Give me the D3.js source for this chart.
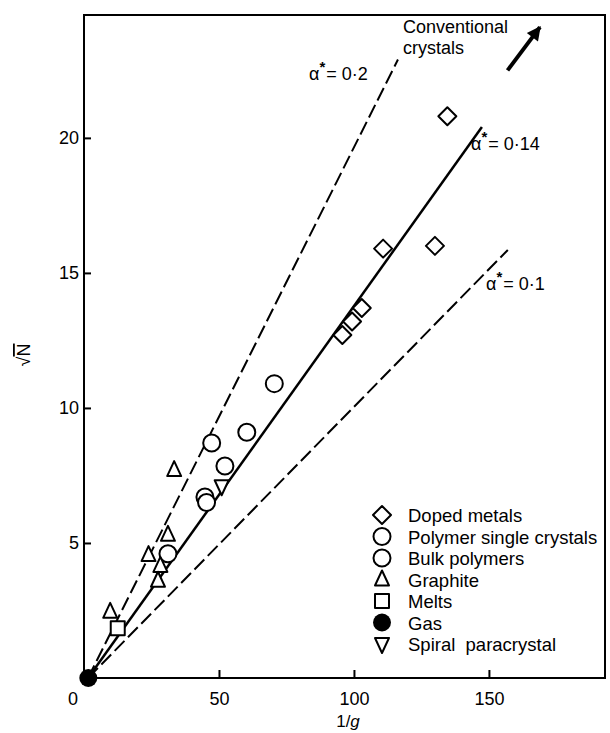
<!DOCTYPE html>
<html>
<head>
<meta charset="utf-8">
<script src="https://cdn.jsdelivr.net/npm/d3@7"></script>
<style>
  body { margin: 0; background: #fff; }
  svg text { font-family: "Liberation Sans", Arial, sans-serif; fill: #000; }
</style>
</head>
<body>
<div id="chart"></div>
<script>
// values: [1/g, sqrt(N)]
const dopedMetals = [[134.6, 20.8], [130, 16.0], [110.8, 15.9], [102.9, 13.7], [99.3, 13.2], [95.7, 12.7]];
const polymerSingleCrystals = [[70.5, 10.9], [60.3, 9.1], [47.3, 8.7], [52.2, 7.85], [44.8, 6.7]];
const bulkPolymers = [[45.4, 6.5], [31.1, 4.6]];
const graphite = [[33.4, 7.7], [31.1, 5.3], [23.9, 4.55], [28.3, 4.15], [27.4, 3.6], [9.7, 2.45]];
const melts = [[12.5, 1.84]];
const gas = [[1.6, 0]];
const spiralParacrystal = [[51.0, 7.1]];

// alpha* reference lines, start and end points
const alphaLabels = ['0·2', '0·14', '0·1'];
const alphaStarts = [[1.5, 0], [1.5, 0], [1.5, 0]];
const alphaEnds = [[116.3, 22.9], [147.4, 20.4], [157, 15.85]];

const xTicks = [50, 100, 150];
const yTicks = [5, 10, 15, 20];

const series = [
  { name: 'Doped metals', data: dopedMetals, shape: 'diamond' },
  { name: 'Polymer single crystals', data: polymerSingleCrystals, shape: 'circle' },
  { name: 'Bulk polymers', data: bulkPolymers, shape: 'circle' },
  { name: 'Graphite', data: graphite, shape: 'triangle' },
  { name: 'Melts', data: melts, shape: 'square' },
  { name: 'Gas', data: gas, shape: 'gas' },
  { name: 'Spiral  paracrystal', data: spiralParacrystal, shape: 'down' }
];

const W = 610, H = 733;
const FONT = '"Liberation Sans", Arial, sans-serif';
const svg = d3.select('#chart').append('svg').attr('width', W).attr('height', H);

const x = d3.scaleLinear().domain([0, 193]).range([84, 605]);
const y = d3.scaleLinear().domain([0, 24.55]).range([678, 15]);

const paths = {
  diamond: 'M0,-9L9,0L0,9L-9,0Z',
  triangle: 'M0,-9L7,6L-7,6Z',
  square: 'M-7,-7H7V7H-7Z',
  down: 'M0,9L7,-6L-7,-6Z'
};

function drawMarker(g, shape) {
  if (shape === 'circle') {
    g.append('circle').attr('r', 8.5).attr('fill', '#fff').attr('stroke', '#000').attr('stroke-width', 2);
  } else if (shape === 'gas') {
    g.append('circle').attr('r', 9).attr('fill', '#000');
  } else {
    g.append('path').attr('d', paths[shape]).attr('fill', '#fff')
      .attr('stroke', '#000').attr('stroke-width', 2).attr('stroke-linejoin', 'round');
  }
}

// frame
svg.append('rect')
  .attr('x', x(0)).attr('y', y(24.55))
  .attr('width', x(193) - x(0)).attr('height', y(0) - y(24.55))
  .attr('fill', 'none').attr('stroke', '#000').attr('stroke-width', 2);

// axes
const xAxis = svg.append('g')
  .attr('transform', `translate(0,${y(0)})`)
  .call(d3.axisBottom(x).tickValues(xTicks).tickSize(-8).tickPadding(14));
const yAxis = svg.append('g')
  .attr('transform', `translate(${x(0)},0)`)
  .call(d3.axisLeft(y).tickValues(yTicks).tickSize(-7).tickPadding(5));

[xAxis, yAxis].forEach(a => {
  a.select('.domain').remove();
  a.selectAll('line').attr('stroke', '#000').attr('stroke-width', 2);
  a.selectAll('text').style('font-size', '18px').style('font-family', FONT);
});

svg.append('text')
  .attr('x', x(0) - 11).attr('y', 705)
  .attr('text-anchor', 'middle').style('font-size', '18px')
  .text('0');

// axis titles
const xt = svg.append('text')
  .attr('x', 348).attr('y', 727)
  .attr('text-anchor', 'middle').style('font-size', '17px');
xt.append('tspan').text('1/');
xt.append('tspan').style('font-style', 'italic').text('g');

const yt = svg.append('text')
  .attr('transform', 'translate(30,355) rotate(-90)')
  .attr('text-anchor', 'middle').style('font-size', '18px');
yt.append('tspan').text('√');
yt.append('tspan').style('text-decoration', 'overline').text('N');

// alpha* lines
const line = d3.line().x(d => x(d[0])).y(d => y(d[1]));
alphaLabels.forEach((lab, i) => {
  svg.append('path')
    .attr('d', line([alphaStarts[i], alphaEnds[i]]))
    .attr('fill', 'none').attr('stroke', '#000')
    .attr('stroke-width', i === 1 ? 2.5 : 2)
    .attr('stroke-dasharray', i === 1 ? null : '14,5');
});

function alphaText(px, py, lab) {
  const t = svg.append('text').attr('x', px).attr('y', py).style('font-size', '18px');
  t.append('tspan').text('α');
  t.append('tspan').attr('dy', -8).style('font-size', '15px').style('font-weight', 'bold').text('*');
  t.append('tspan').attr('dy', 8).attr('dx', 1).text('= ' + lab);
}
alphaText(309, 80, alphaLabels[0]);
alphaText(471, 150, alphaLabels[1]);
alphaText(486, 290, alphaLabels[2]);

// conventional crystals note and arrow
svg.append('defs').append('marker')
  .attr('id', 'head').attr('viewBox', '0 0 10 10')
  .attr('refX', 9).attr('refY', 5)
  .attr('markerWidth', 16).attr('markerHeight', 14)
  .attr('markerUnits', 'userSpaceOnUse').attr('orient', 'auto')
  .append('path').attr('d', 'M0,0L10,5L0,10Z').attr('fill', '#000');

svg.append('line')
  .attr('x1', x(156.9)).attr('y1', y(22.5))
  .attr('x2', x(168.9)).attr('y2', y(24.1))
  .attr('stroke', '#000').attr('stroke-width', 4)
  .attr('marker-end', 'url(#head)');

svg.append('text').attr('x', 403).attr('y', 33).style('font-size', '18px').text('Conventional');
svg.append('text').attr('x', 403).attr('y', 54).style('font-size', '18px').text('crystals');

// data points
series.forEach(s => {
  s.data.forEach(d => {
    const g = svg.append('g').attr('transform', `translate(${x(d[0])},${y(d[1])})`);
    drawMarker(g, s.shape);
  });
});

// legend
series.forEach((s, i) => {
  const cy = 515 + i * 21.5;
  const g = svg.append('g').attr('transform', `translate(382,${cy})`);
  drawMarker(g, s.shape);
  svg.append('text')
    .attr('x', 408).attr('y', cy + 7)
    .style('font-size', '18.5px')
    .style('white-space', 'pre')
    .text(s.name);
});
</script>
</body>
</html>
